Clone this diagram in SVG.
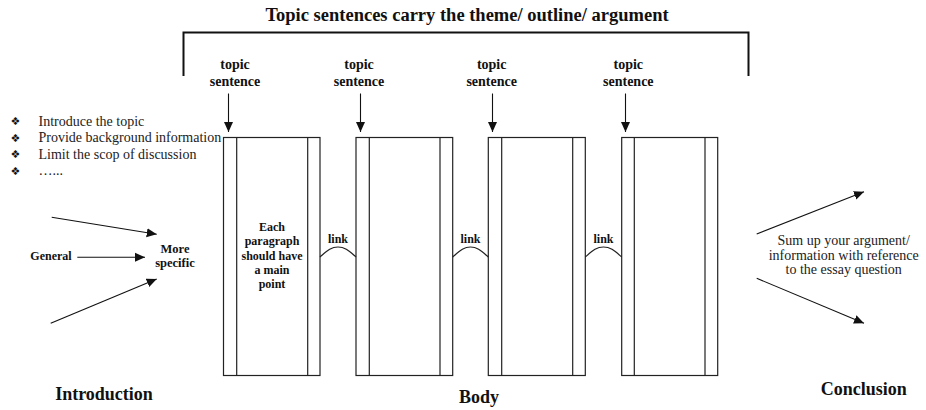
<svg xmlns="http://www.w3.org/2000/svg" width="926" height="410" viewBox="0 0 926 410">
<defs>
<marker id="ah" markerUnits="userSpaceOnUse" markerWidth="10" markerHeight="10" refX="10" refY="5" orient="auto">
<path d="M0,0.5 L10,5 L0,9.5 z" fill="#111"/>
</marker>
<style>
.b{font-family:"Liberation Serif","Times New Roman",serif;font-weight:bold;fill:#111;text-anchor:middle}
.r{font-family:"Liberation Serif","Times New Roman",serif;fill:#222}
.box{fill:#fff;stroke:#222;stroke-width:1.2}
.ln{stroke:#222;stroke-width:1.2;fill:none}
.ar{stroke:#111;stroke-width:1.1;fill:none;marker-end:url(#ah)}
.bul{font-family:"DejaVu Sans",sans-serif;font-size:11px;fill:#111;text-anchor:middle}
</style>
</defs>
<rect width="926" height="410" fill="#fff"/>

<g id="title">
<text class="b" x="467" y="20.5" font-size="18.5">Topic sentences carry the theme/ outline/ argument</text>
<path d="M183.5,76 V32.5 H748.5 V76" fill="none" stroke="#111" stroke-width="2"/>
</g>

<g id="intro-list">
<text class="bul" x="15.5" y="125">❖</text>
<text class="bul" x="15.5" y="141.5">❖</text>
<text class="bul" x="15.5" y="158">❖</text>
<text class="bul" x="15.5" y="174.5">❖</text>
<text class="r" x="38.5" y="125.5" font-size="14">Introduce the topic</text>
<text class="r" x="38.5" y="142" font-size="14">Provide background information</text>
<text class="r" x="38.5" y="158.5" font-size="14">Limit the scop of discussion</text>
<text class="r" x="38.5" y="175" font-size="14">…...</text>
</g>

<g id="general">
<text class="b" x="51" y="260" font-size="12">General</text>
</g>
<g id="more-specific">
<text class="b" x="175" y="253.3" font-size="12.5">More</text>
<text class="b" x="175" y="266.7" font-size="12.5">specific</text>
</g>

<g id="ts1"><text class="b" x="235" y="68.5" font-size="14">topic</text><text class="b" x="235" y="86" font-size="14">sentence</text></g>
<g id="ts2"><text class="b" x="359" y="68.5" font-size="14">topic</text><text class="b" x="359" y="86" font-size="14">sentence</text></g>
<g id="ts3"><text class="b" x="491.7" y="68.5" font-size="14">topic</text><text class="b" x="491.7" y="86" font-size="14">sentence</text></g>
<g id="ts4"><text class="b" x="628.3" y="68.5" font-size="14">topic</text><text class="b" x="628.3" y="86" font-size="14">sentence</text></g>

<g id="p1">
<rect class="box" x="223.5" y="137.5" width="96.5" height="238"/>
<path class="ln" d="M236.7,137.5 V375.5 M307.7,137.5 V375.5"/>
<text class="b" x="272" y="231" font-size="12">Each</text>
<text class="b" x="272" y="245.3" font-size="12">paragraph</text>
<text class="b" x="272" y="259.6" font-size="12">should have</text>
<text class="b" x="272" y="273.9" font-size="12">a main</text>
<text class="b" x="272" y="288.2" font-size="12">point</text>
</g>
<g id="p2">
<rect class="box" x="356" y="137.5" width="96.7" height="238"/>
<path class="ln" d="M369.3,137.5 V375.5 M440,137.5 V375.5"/>
</g>
<g id="p3">
<rect class="box" x="488.3" y="137.5" width="97" height="238"/>
<path class="ln" d="M501.7,137.5 V375.5 M572.7,137.5 V375.5"/>
</g>
<g id="p4">
<rect class="box" x="621.7" y="137.5" width="96" height="238"/>
<path class="ln" d="M634.3,137.5 V375.5 M705,137.5 V375.5"/>
</g>

<g id="conclusion-text">
<text class="r" x="843.7" y="245" font-size="14" text-anchor="middle">Sum up your argument/</text>
<text class="r" x="843.7" y="259.5" font-size="14" text-anchor="middle">information with reference</text>
<text class="r" x="843.7" y="274" font-size="14" text-anchor="middle">to the essay question</text>
</g>

<g id="section-labels">
<text class="b" x="104" y="400" font-size="18">Introduction</text>
<text class="b" x="479" y="403" font-size="18">Body</text>
<text class="b" x="863.7" y="395" font-size="18">Conclusion</text>
</g>

<g id="connectors">
<line class="ar" x1="228.5" y1="93.5" x2="228.5" y2="132"/>
<line class="ar" x1="360.5" y1="93.5" x2="360.5" y2="132"/>
<line class="ar" x1="492.5" y1="93.5" x2="492.5" y2="132"/>
<line class="ar" x1="625.5" y1="93.5" x2="625.5" y2="132"/>
<line class="ar" x1="51.7" y1="217.3" x2="156.7" y2="234.3"/>
<line class="ar" x1="77.3" y1="257.3" x2="145" y2="257.3" stroke="#555" stroke-width="1.6"/>
<line class="ar" x1="50.7" y1="323.3" x2="156.7" y2="279"/>
<line class="ar" x1="756.7" y1="234" x2="864" y2="191.7"/>
<line class="ar" x1="756.7" y1="278.3" x2="864" y2="323.3"/>
<path class="ln" d="M320,257 C327,251 331,247 338,247 C345,247 349,251 356,257"/>
<path class="ln" d="M452.7,257 C459.7,251 463.7,247 470.5,247 C477.3,247 481.3,251 488.3,257"/>
<path class="ln" d="M585.3,257 C592.3,251 596.3,247 603.5,247 C610.7,247 614.7,251 621.7,257"/>
<text class="b" x="338" y="242.7" font-size="12">link</text>
<text class="b" x="470.5" y="242.7" font-size="12">link</text>
<text class="b" x="603.5" y="242.7" font-size="12">link</text>
</g>
</svg>
